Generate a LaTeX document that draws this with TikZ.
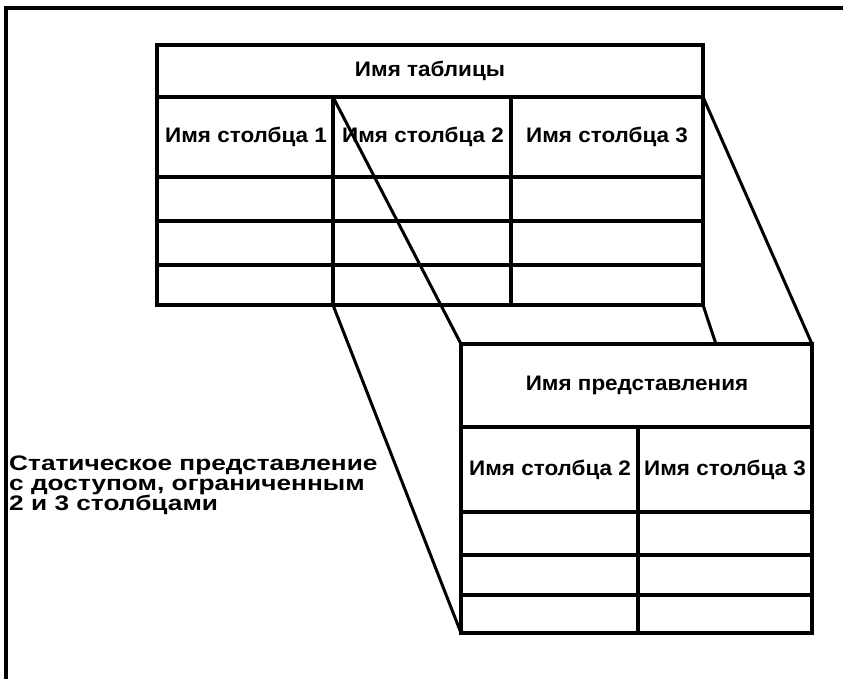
\documentclass[tikz,border=0pt]{standalone}
\usepackage{fontspec}
\setmainfont{Liberation Sans}
\begin{document}
\begin{tikzpicture}[x=1pt,y=-1pt,
		grid/.style={line width=3.2pt},
		proj/.style={line width=3pt},
		lbl/.style={font=\bfseries\fontsize{21}{20}\selectfont\addfontfeature{FakeStretch=1.07},inner sep=0pt},
		notelbl/.style={font=\bfseries\fontsize{21}{20}\selectfont\addfontfeature{FakeStretch=1.25},inner sep=0pt,anchor=north west,align=left}]
		\useasboundingbox (0,0) rectangle (843,679);
		\draw[line width=4pt] (6,679) -- (6,8) -- (843,8);
		
		% table
		\draw[grid] (157,45) rectangle (703,305);
		\draw[grid] (157,97) -- (703,97);
		\draw[grid] (157,177) -- (703,177);
		\draw[grid] (157,221) -- (703,221);
		\draw[grid] (157,265) -- (703,265);
		\draw[grid] (333,97) -- (333,305);
		\draw[grid] (511,97) -- (511,305);
		\node[lbl] (tname) at (430,71) {Имя таблицы};
		\node[lbl] (col1) at (246,137) {Имя столбца 1};
		\node[lbl] (col2) at (423,137) {Имя столбца 2};
		\node[lbl] (col3) at (607,137) {Имя столбца 3};
		
		\coordinate (TA) at (333,97);
		\coordinate (TB) at (703,97);
		\coordinate (TC) at (333,305);
		\coordinate (TD) at (703,305);
		\coordinate (VA) at (461,344);
		\coordinate (VB) at (812,344);
		\coordinate (VC) at (461,633);
		\coordinate (VD) at (812,633);
		
		\draw[proj] (TA) -- (VA);
		\draw[proj] (TB) -- (VB);
		\draw[proj] (TC) -- (VC);
		\draw[proj] (TD) -- (VD);
		
		% view
		\draw[grid,fill=white] (VA) rectangle (VD);
		\draw[grid] (461,427) -- (812,427);
		\draw[grid] (461,512) -- (812,512);
		\draw[grid] (461,555) -- (812,555);
		\draw[line width=4.6pt] (461,595) -- (812,595);
		\draw[grid] (638,427) -- (638,633);
		\node[lbl] (vname) at (637,385) {Имя представления};
		\node[lbl] (vcol2) at (550,470) {Имя столбца 2};
		\node[lbl] (vcol3) at (725,470) {Имя столбца 3};
		
		\node[notelbl] (note) at (9,456)
			{Статическое представление\\с доступом, ограниченным\\2 и 3 столбцами};
	\end{tikzpicture}
\end{document}
